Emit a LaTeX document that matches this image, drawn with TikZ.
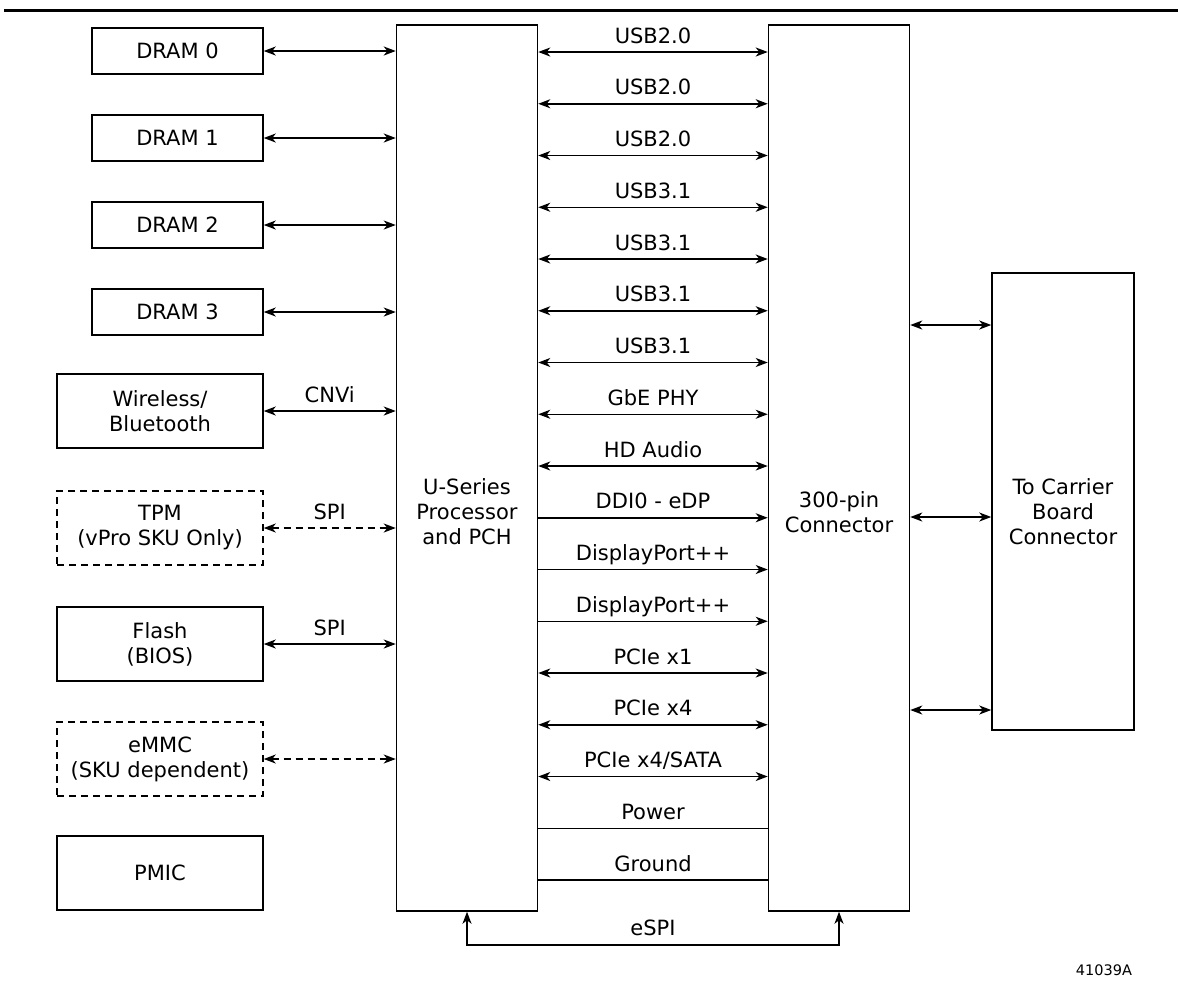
\documentclass[tikz,border=0pt]{standalone}
\usepackage{fontspec}
\setmainfont{DejaVu Sans}
\usetikzlibrary{arrows.meta}
\begin{document}
\begin{tikzpicture}[x=1pt,y=-1pt,line width=1.5pt,
        >={Stealth[length=12pt,width=9pt,inset=3.5pt]},
        font=\fontsize{21}{25}\selectfont,
        blk/.style={draw,align=center,inner sep=0pt,minimum width=171pt,minimum height=46pt},
        wblk/.style={blk,minimum width=206pt,minimum height=74pt},
        opt/.style={wblk,dashed,dash pattern=on 7pt off 5pt},
        tall/.style={draw,inner sep=0pt,minimum width=141pt,minimum height=886pt},
        lbl/.style={anchor=base,yshift=9pt}]
    \useasboundingbox (0,0) rectangle (1178,989);
    \draw[line width=3pt] (4,10) -- (1178,10);
    % left side
    \node[blk] (dram0) at (177.5,51) {DRAM 0};
    \node[blk] (dram1) at (177.5,138) {DRAM 1};
    \node[blk] (dram2) at (177.5,225) {DRAM 2};
    \node[blk] (dram3) at (177.5,312) {DRAM 3};
    \node[wblk] (wifi) at (160,411) {Wireless/\\Bluetooth};
    \node[opt] (tpm) at (160,528) {TPM\\(vPro SKU Only)};
    \node[wblk] (flash) at (160,644) {Flash\\(BIOS)};
    \node[opt] (emmc) at (160,759) {eMMC\\(SKU dependent)};
    \node[wblk] (pmic) at (160,873) {PMIC};
    % middle and right
    \node[tall] (cpu) at (467,468) {};
    \node[align=center] (cputxt) at (467,512) {U-Series\\Processor\\and PCH};
    \node[tall] (conn) at (839,468) {};
    \node[align=center] (conntxt) at (839,512) {300-pin\\Connector};
    \node[draw,inner sep=0pt,minimum width=142pt,minimum height=457pt] (carrier) at (1063,501.5) {};
    \node[align=center] (cartxt) at (1063,512) {To Carrier\\Board\\Connector};
    \foreach \b in {dram0,dram1,dram2,dram3}
        \draw[<->] (\b.east) -- (\b.east -| cpu.west);
    \draw[<->] (wifi.east) -- node[lbl] {CNVi} (wifi.east -| cpu.west);
    \draw[<->,dashed,dash pattern=on 7pt off 5pt] (tpm.east) -- node[lbl] {SPI} (tpm.east -| cpu.west);
    \draw[<->] (flash.east) -- node[lbl] {SPI} (flash.east -| cpu.west);
    \draw[<->,dashed,dash pattern=on 7pt off 5pt] (emmc.east) -- (emmc.east -| cpu.west);
    \foreach \lname/\tip [count=\i from 0] in {USB2.0/<->,USB2.0/<->,USB2.0/<->,USB3.1/<->,USB3.1/<->,
            USB3.1/<->,USB3.1/<->,GbE PHY/<->,HD Audio/<->,DDI0 - eDP/->,DisplayPort++/->,
            DisplayPort++/->,PCIe x1/<->,PCIe x4/<->,{PCIe x4/SATA}/<->,Power/-,Ground/-} {
        \coordinate (r\i) at (0,{52+\i*51.75});
        \draw[\tip] (cpu.east |- r\i) -- node[lbl] {\lname} (conn.west |- r\i);
    }
    \foreach \y [count=\i] in {325,517,710} {
        \coordinate (c\i) at (0,\y);
        \draw[<->] (conn.east |- c\i) -- (carrier.west |- c\i);
    }
    \draw[<->] (cpu.south) -- ++(0,33) -- node[lbl] {eSPI} ++(372,0) -- (conn.south);
    \node[font=\fontsize{14.5}{16}\selectfont] (fig) at (1104,970) {41039A};
\end{tikzpicture}
\end{document}
